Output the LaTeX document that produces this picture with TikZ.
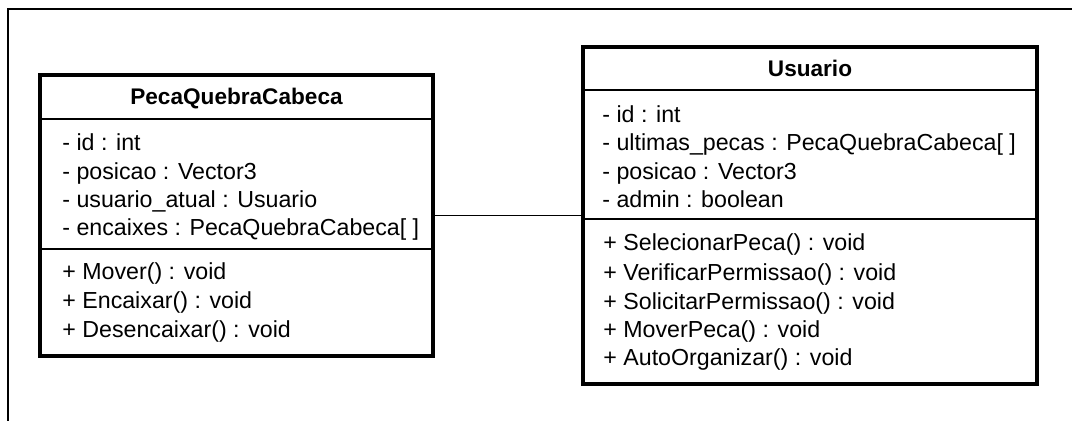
\documentclass[tikz,border=0pt]{standalone}
\usepackage{fontspec}
\setmainfont{Liberation Sans}
\begin{document}
\begin{tikzpicture}[x=0.5pt,y=-0.5pt,
  classbox/.style={draw,line width=1.6pt,shape=rectangle,inner sep=0pt},
  member/.style={anchor=west,inner sep=0pt,text height=0.72em,text depth=0pt,font=\fontsize{11.6}{13}\selectfont},
  classname/.style={inner sep=0pt,text height=0.72em,text depth=0pt,font=\fontsize{11.3}{13}\selectfont\bfseries},
  sep/.style={line width=0.7pt}]
\useasboundingbox (0,0) rectangle (1075,421);
\draw[line width=1pt] (8,421) -- (8,9) -- (1072,9);
% class PecaQuebraCabeca
\node[classbox,minimum width=196.5pt,minimum height=140.5pt](P) at (236.5,215.5){};
\draw[sep] (P.west |- 0,119) -- (P.east |- 0,119);
\draw[sep] (P.west |- 0,249) -- (P.east |- 0,249);
\node[classname](P0) at (236.5,97){PecaQuebraCabeca};
\node[member](P1) at (62,143){- id : int};
\node[member](P2) at (62,172){- posicao : Vector3};
\node[member](P3) at (62,200){- usuario\_atual : Usuario};
\node[member](P4) at (62,228){- encaixes : PecaQuebraCabeca[ ]};
\node[member](P5) at (62,272){+ Mover() : void};
\node[member](P6) at (62,301){+ Encaixar() : void};
\node[member](P7) at (62,330){+ Desencaixar() : void};
% class Usuario
\node[classbox,minimum width=227pt,minimum height=168.5pt](U) at (810,215.5){};
\draw[sep] (U.west |- 0,90) -- (U.east |- 0,90);
\draw[sep] (U.west |- 0,219) -- (U.east |- 0,219);
\node[classname](U0) at (810,69){Usuario};
\node[member](U1) at (602,115){- id : int};
\node[member](U2) at (602,143){- ultimas\_pecas : PecaQuebraCabeca[ ]};
\node[member](U3) at (602,172){- posicao : Vector3};
\node[member](U4) at (602,200){- admin : boolean};
\node[member](U5) at (603,243){+ SelecionarPeca() : void};
\node[member](U6) at (603,273){+ VerificarPermissao() : void};
\node[member](U7) at (603,302){+ SolicitarPermissao() : void};
\node[member](U8) at (603,330){+ MoverPeca() : void};
\node[member](U9) at (603,358){+ AutoOrganizar() : void};
% association
\draw[sep] (P) -- (U);
\end{tikzpicture}
\end{document}
